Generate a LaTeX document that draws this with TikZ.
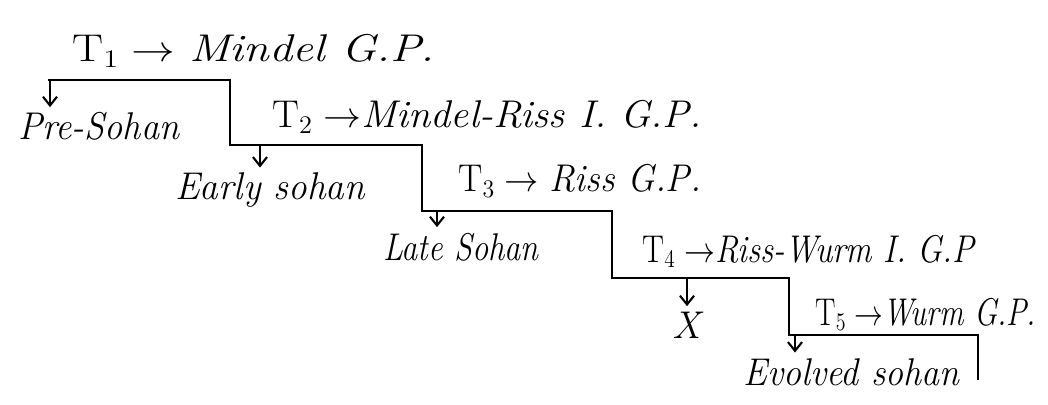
\documentclass[tikz,border=0pt]{standalone}
\usepackage{graphicx}
\usetikzlibrary{arrows.meta}
\newcommand{\sx}[2]{\scalebox{#1}[1]{#2}}
\begin{document}
\begin{tikzpicture}[x=0.02cm,y=-0.02cm,
  stair/.style={line width=1.5pt, line join=miter},
  down/.style={-{Straight Barb[length=5pt,width=8pt]}, line width=1.2pt, shorten >=3pt},
  lab/.style={inner sep=0pt, font=\fontsize{22}{26}\selectfont\itshape},
  tlab/.style={inner sep=0pt, font=\fontsize{22}{26}\selectfont}]
\useasboundingbox (0,0) rectangle (1048,405);
% staircase corners
\coordinate (s0) at (48,80);
\coordinate (s1) at (230,80);
\coordinate (s2) at (230,145);
\coordinate (s3) at (422,145);
\coordinate (s4) at (422,211);
\coordinate (s5) at (612,211);
\coordinate (s6) at (612,278);
\coordinate (s7) at (789,278);
\coordinate (s8) at (789,335);
\coordinate (s9) at (978,335);
\coordinate (s10) at (978,380);
\draw[stair] (s0) -- (s1) -- (s2) -- (s3) -- (s4) -- (s5) -- (s6) -- (s7) -- (s8) -- (s9) -- (s10);
% arrow roots
\coordinate (a1) at (50,80);
\coordinate (a2) at (260,145);
\coordinate (a3) at (437,211);
\coordinate (a4) at (687,278);
\coordinate (a5) at (795,335);
% labels
\node[tlab, anchor=base west] (t1) at (72,62) {\sx{1.2}{T$_1\rightarrow$ \textit{Mindel G.P.}}};
\node[lab, anchor=base west] (pre) at (18,140) {\sx{0.94}{Pre-Sohan}};
\node[tlab, anchor=base west] (t2) at (272,128) {\sx{1.04}{T$_2\rightarrow$\textit{Mindel-Riss I. G.P.}}};
\node[lab, anchor=base west] (early) at (175,200) {\sx{0.96}{Early sohan}};
\node[tlab, anchor=base west] (t3) at (458,192) {\sx{0.94}{T$_3\rightarrow$ \textit{Riss G.P.}}};
\node[lab, anchor=base west] (late) at (383,260) {\sx{0.84}{Late Sohan}};
\node[tlab, anchor=base west] (t4) at (642,262) {\sx{0.85}{T$_4\rightarrow$\textit{Riss-Wurm I. G.P}}};
\node[lab] (x) at (687,325) {X};
\node[tlab, anchor=base west] (t5) at (815,325) {\sx{0.79}{T$_5\rightarrow$\textit{Wurm G.P.}}};
\node[lab, anchor=base west] (evo) at (743,385) {\sx{0.93}{Evolved sohan}};
% down arrows
\draw[down] (a1) -- (a1 |- pre.north);
\draw[down] (a2) -- (a2 |- early.north);
\draw[down] (a3) -- (a3 |- late.north);
\draw[down] (a4) -- (a4 |- x.north);
\draw[down] (a5) -- (a5 |- evo.north);
\end{tikzpicture}
\end{document}
